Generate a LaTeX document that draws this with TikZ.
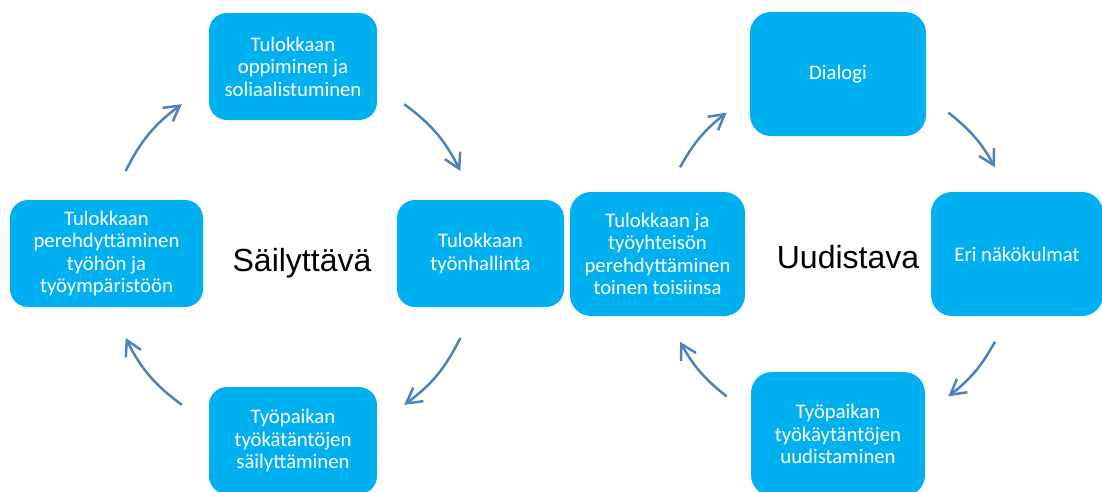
\documentclass[tikz,border=0pt]{standalone}
\usepackage{fontspec}
\setmainfont{Carlito}
\newfontfamily\labelfont{Liberation Sans}
\usetikzlibrary{arrows.meta}
\definecolor{boxblue}{HTML}{00B0F0}
\definecolor{arrowblue}{HTML}{4F81BD}

\begin{document}
\begin{tikzpicture}[x=1pt,y=1pt,
  box/.style={fill=boxblue, rounded corners=18pt, align=center, text=white, inner sep=0pt,
    font=\fontsize{20.7}{22.5}\selectfont},
  bigbox/.style={box, rounded corners=21pt},
  cyc/.style={draw=arrowblue, line width=2.5pt, -{Straight Barb[length=15pt,width=17pt]}},
  title/.style={font=\labelfont\fontsize{32}{38}\selectfont, anchor=base}]
\useasboundingbox (0,0) rectangle (1102,-491);

% left cycle
\node[box, minimum width=168pt, minimum height=107pt] (oppiminen) at (293,-66.5)
{Tulokkaan\\oppiminen ja\\soliaalistuminen};
\node[box, minimum width=193pt, minimum height=107pt] (perehdytys) at (106.5,-253.5)
{Tulokkaan\\perehdyttäminen\\työhön ja\\työympäristöön};
\node[box, minimum width=167pt, minimum height=107pt] (tyonhallinta) at (480.5,-253.5)
{Tulokkaan\\työnhallinta};
\node[box, minimum width=168pt, minimum height=107pt] (sailyttaminen) at (293,-440.5)
{Työpaikan\\työkätäntöjen\\säilyttäminen};
\node[title] (sailyttava) at (302,-271) {Säilyttävä};

% right cycle
\node[bigbox, minimum width=175pt, minimum height=124pt] (yhteiso) at (657.5,-254)
{Tulokkaan ja\\työyhteisön\\perehdyttäminen\\toinen toisiinsa};
\node[bigbox, minimum width=176pt, minimum height=124pt] (dialogi) at (838,-74)
{Dialogi};
\node[bigbox, minimum width=172pt, minimum height=124pt] (nakokulmat) at (1017,-254)
{Eri näkökulmat};
\node[bigbox, minimum width=174pt, minimum height=124pt] (uudistaminen) at (838,-434)
{Työpaikan\\työkäytäntöjen\\uudistaminen};
\node[title] (uudistava) at (848,-268) {Uudistava};

% arrow ends
\begin{scope}[shift={(293,-254.5)}]
\coordinate (a1) at (153.5:187); \coordinate (a2) at (126.5:187);
\coordinate (b1) at (53.5:187);  \coordinate (b2) at (26.5:187);
\coordinate (c1) at (-26.5:187); \coordinate (c2) at (-53.5:187);
\coordinate (d1) at (-126.5:187); \coordinate (d2) at (-153.5:187);
\end{scope}
\begin{scope}[shift={(837.5,-254.5)}]
\coordinate (e1) at (151:180); \coordinate (e2) at (128:180);
\coordinate (f1) at (52:180);  \coordinate (f2) at (29:180);
\coordinate (g1) at (-29:180); \coordinate (g2) at (-52:180);
\coordinate (h1) at (-128:180); \coordinate (h2) at (-151:180);
\end{scope}

\draw[cyc] (a1) to[bend left=13.5] (a2);
\draw[cyc] (b1) to[bend left=13.5] (b2);
\draw[cyc] (c1) to[bend left=13.5] (c2);
\draw[cyc] (d1) to[bend left=13.5] (d2);
\draw[cyc] (e1) to[bend left=11.5] (e2);
\draw[cyc] (f1) to[bend left=11.5] (f2);
\draw[cyc] (g1) to[bend left=11.5] (g2);
\draw[cyc] (h1) to[bend left=11.5] (h2);
\end{tikzpicture}
\end{document}
